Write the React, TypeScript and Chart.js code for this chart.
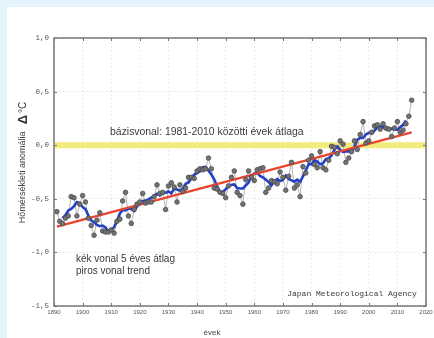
import React, { useEffect, useRef } from "react";
import { Chart, registerables } from "chart.js";

Chart.register(...registerables);

// ---- data ----
const FIRST_YEAR = 1891;
const annualAnomaly = [
  -0.62, -0.71, -0.73, -0.68, -0.66, -0.48, -0.49, -0.66, -0.55, -0.47,
  -0.53, -0.68, -0.75, -0.84, -0.70, -0.63, -0.80, -0.81, -0.81, -0.79,
  -0.82, -0.71, -0.69, -0.52, -0.44, -0.66, -0.73, -0.60, -0.55, -0.53,
  -0.45, -0.54, -0.53, -0.53, -0.48, -0.37, -0.45, -0.44, -0.60, -0.38,
  -0.35, -0.39, -0.53, -0.37, -0.43, -0.40, -0.30, -0.30, -0.31, -0.24,
  -0.22, -0.23, -0.22, -0.12, -0.22, -0.40, -0.41, -0.44, -0.45, -0.49,
  -0.38, -0.30, -0.24, -0.44, -0.47, -0.55, -0.32, -0.24, -0.30, -0.33,
  -0.23, -0.22, -0.21, -0.44, -0.40, -0.33, -0.34, -0.36, -0.25, -0.30,
  -0.42, -0.29, -0.16, -0.40, -0.37, -0.48, -0.20, -0.26, -0.14, -0.10,
  -0.18, -0.21, -0.06, -0.21, -0.23, -0.14, -0.01, -0.02, -0.08, 0.04,
  0.01, -0.16, -0.12, -0.06, 0.04, -0.04, 0.10, 0.22, 0.02, 0.04,
  0.12, 0.18, 0.19, 0.15, 0.20, 0.16, 0.15, 0.08, 0.16, 0.22,
  0.12, 0.14, 0.20, 0.27, 0.42,
];
const years = annualAnomaly.map((_, i) => FIRST_YEAR + i);

const MEAN_FIRST_YEAR = 1893;
const fiveYearMean = [
  -0.680, -0.652, -0.608, -0.594, -0.568, -0.530, -0.540, -0.578, -0.596, -0.654,
  -0.700, -0.720, -0.744, -0.756, -0.750, -0.768, -0.806, -0.788, -0.764, -0.706,
  -0.636, -0.604, -0.608, -0.590, -0.596, -0.614, -0.572, -0.534, -0.520, -0.516,
  -0.506, -0.490, -0.472, -0.454, -0.468, -0.448, -0.444, -0.432, -0.450, -0.404,
  -0.414, -0.424, -0.406, -0.360, -0.348, -0.310, -0.274, -0.260, -0.244, -0.206,
  -0.202, -0.238, -0.274, -0.318, -0.384, -0.438, -0.434, -0.412, -0.372, -0.370,
  -0.366, -0.400, -0.404, -0.404, -0.376, -0.348, -0.284, -0.264, -0.258, -0.286,
  -0.300, -0.320, -0.344, -0.374, -0.336, -0.316, -0.334, -0.324, -0.284, -0.314,
  -0.328, -0.340, -0.322, -0.342, -0.290, -0.236, -0.176, -0.178, -0.138, -0.152,
  -0.178, -0.170, -0.130, -0.122, -0.096, -0.042, -0.012, -0.042, -0.062, -0.058,
  -0.058, -0.068, -0.016, 0.052, 0.068, 0.068, 0.100, 0.116, 0.110, 0.136,
  0.168, 0.176, 0.170, 0.148, 0.150, 0.154, 0.146, 0.144, 0.168, 0.190,
  0.230,
];
const meanYears = fiveYearMean.map((_, i) => MEAN_FIRST_YEAR + i);

const trendYears = [1891, 2015];
const trendValues = [-0.76, 0.12];

const baselineYears = [1890, 2020];
const baselineValues = [0, 0];

const X_MIN = 1890;
const X_MAX = 2020;
const X_STEP = 10;
const Y_MIN = -1.5;
const Y_MAX = 1.0;
const Y_STEP = 0.5;

const yAxisTitle = "Hőmérsékleti anomália";
const yAxisUnitDelta = "Δ";
const yAxisUnit = "°C";
const xAxisTitle = "évek";
const baselineLabel = "bázisvonal: 1981-2010 közötti évek átlaga";
const legendLine1 = "kék vonal 5 éves átlag";
const legendLine2 = "piros vonal trend";
const sourceLabel = "Japan Meteorological Agency";

const toPoints = (xs: number[], ys: number[]) => xs.map((x, i) => ({ x, y: ys[i] }));

const decorPlugin = {
  id: "decor",
  afterDatasetsDraw(chart: any) {
    const { ctx, chartArea: a, scales } = chart;
    const x = scales.x;
    const y = scales.y;
    ctx.save();
    // frame
    ctx.strokeStyle = "#6e6e6e";
    ctx.lineWidth = 1.4;
    ctx.strokeRect(a.left, a.top, a.right - a.left, a.bottom - a.top);
    // inward ticks
    ctx.lineWidth = 1;
    ctx.strokeStyle = "#777";
    ctx.beginPath();
    for (let v = X_MIN; v <= X_MAX; v += X_STEP) {
      const px = Math.round(x.getPixelForValue(v)) + 0.5;
      ctx.moveTo(px, a.top);
      ctx.lineTo(px, a.top + 3);
      ctx.moveTo(px, a.bottom);
      ctx.lineTo(px, a.bottom - 3);
    }
    for (let v = Y_MIN; v <= Y_MAX + 1e-9; v += Y_STEP) {
      const py = Math.round(y.getPixelForValue(v)) + 0.5;
      ctx.moveTo(a.left, py);
      ctx.lineTo(a.left + 3, py);
      ctx.moveTo(a.right, py);
      ctx.lineTo(a.right - 3, py);
    }
    ctx.stroke();

    // annotations
    ctx.fillStyle = "#3a3a3a";
    ctx.textBaseline = "middle";
    ctx.textAlign = "left";
    ctx.font = '10.4px "Liberation Sans", Arial, sans-serif';
    ctx.fillText(baselineLabel, x.getPixelForValue(1909.6), y.getPixelForValue(0.12));
    ctx.font = '10px "Liberation Sans", Arial, sans-serif';
    ctx.fillText(legendLine1, x.getPixelForValue(1897.7), y.getPixelForValue(-1.065));
    ctx.fillText(legendLine2, x.getPixelForValue(1897.7), y.getPixelForValue(-1.18));
    ctx.textAlign = "right";
    ctx.font = '8px "Liberation Mono", "DejaVu Sans Mono", monospace';
    ctx.fillText(sourceLabel, x.getPixelForValue(2016.8), y.getPixelForValue(-1.39));

    // x axis title
    ctx.textAlign = "center";
    ctx.font = '8px "Liberation Sans", Arial, sans-serif';
    ctx.fillStyle = "#444";
    ctx.fillText(xAxisTitle, a.left + 158, a.bottom + 27);

    // y axis title (rotated)
    ctx.save();
    ctx.translate(a.left - 31, y.getPixelForValue(-0.3));
    ctx.rotate(-Math.PI / 2);
    ctx.font = '9px "Liberation Sans", Arial, sans-serif';
    ctx.fillText(yAxisTitle, 0, 0);
    ctx.restore();

    ctx.save();
    ctx.translate(a.left - 31, y.getPixelForValue(0.3));
    ctx.rotate(-Math.PI / 2);
    ctx.textAlign = "left";
    ctx.font = 'bold 13px "Liberation Sans", Arial, sans-serif';
    ctx.fillStyle = "#333";
    const dw = ctx.measureText(yAxisUnitDelta).width;
    ctx.font = '10px "Liberation Sans", Arial, sans-serif';
    const uw = ctx.measureText(yAxisUnit).width;
    const start = -(dw + 2 + uw) / 2;
    ctx.font = 'bold 13px "Liberation Sans", Arial, sans-serif';
    ctx.fillText(yAxisUnitDelta, start, 0);
    ctx.font = '10px "Liberation Sans", Arial, sans-serif';
    ctx.fillText(yAxisUnit, start + dw + 2, 0);
    ctx.restore();

    ctx.restore();
  },
};

export default function App() {
  const canvasRef = useRef<HTMLCanvasElement | null>(null);

  useEffect(() => {
    const canvas = canvasRef.current;
    if (!canvas) return;
    const chart = new Chart(canvas, {
      type: "line",
      data: {
        datasets: [
          {
            label: "baseline",
            data: toPoints(baselineYears, baselineValues),
            borderColor: "rgba(240, 234, 110, 0.9)",
            borderWidth: 6,
            pointRadius: 0,
            order: 10,
          },
          {
            label: "annual line",
            data: toPoints(years, annualAnomaly),
            borderColor: "#b4b4b4",
            borderWidth: 1,
            pointRadius: 0,
            order: 9,
          },
          {
            label: "5-year mean",
            data: toPoints(meanYears, fiveYearMean),
            borderColor: "#2340c8",
            borderWidth: 2.6,
            pointRadius: 0,
            order: 8,
          },
          {
            label: "trend",
            data: toPoints(trendYears, trendValues),
            borderColor: "#e8442e",
            borderWidth: 2.4,
            pointRadius: 0,
            order: 7,
          },
          {
            label: "annual points",
            data: toPoints(years, annualAnomaly),
            showLine: false,
            pointRadius: 2.3,
            pointBackgroundColor: "#737373",
            pointBorderColor: "#4a4a4a",
            pointBorderWidth: 0.8,
            order: 1,
          },
        ],
      },
      options: {
        animation: false,
        responsive: false,
        devicePixelRatio: 1,
        layout: { padding: { left: 0, top: 38, right: 19, bottom: 0 } },
        plugins: {
          legend: { display: false },
          tooltip: { enabled: false },
        },
        scales: {
          x: {
            type: "linear",
            min: X_MIN,
            max: X_MAX,
            afterFit: (s: any) => {
              s.height = 32;
            },
            ticks: {
              stepSize: X_STEP,
              padding: 3,
              color: "#555",
              font: { family: '"Liberation Sans", Arial, sans-serif', size: 6 },
              maxRotation: 0,
              callback: (v: any) => String(v),
            },
            grid: { color: "rgba(0,0,0,0.08)", drawTicks: false },
            border: { display: false, dash: [2, 2] },
          },
          y: {
            type: "linear",
            min: Y_MIN,
            max: Y_MAX,
            afterFit: (s: any) => {
              s.width = 54;
            },
            ticks: {
              stepSize: Y_STEP,
              padding: 5,
              color: "#555",
              font: { family: '"Liberation Mono", monospace', size: 7.5 },
              callback: (v: any) => Number(v).toFixed(1).replace("-0.0", "0.0").replace(".", ","),
            },
            grid: { color: "rgba(0,0,0,0.08)", drawTicks: false },
            border: { display: false, dash: [2, 2] },
          },
        },
      },
      plugins: [decorPlugin],
    });
    return () => chart.destroy();
  }, []);

  return (
    <div
      style={{
        position: "fixed",
        left: 0,
        top: 0,
        width: 434,
        height: 338,
        overflow: "hidden",
        background: "#e4f2fb",
      }}
    >
      <div
        style={{
          position: "absolute",
          left: 7,
          top: 7,
          right: 0,
          bottom: 0,
          background: "#ffffff",
        }}
      />
      <canvas
        ref={canvasRef}
        width={445}
        height={338}
        style={{ position: "absolute", left: 0, top: 0, width: 445, height: 338 }}
      />
    </div>
  );
}
